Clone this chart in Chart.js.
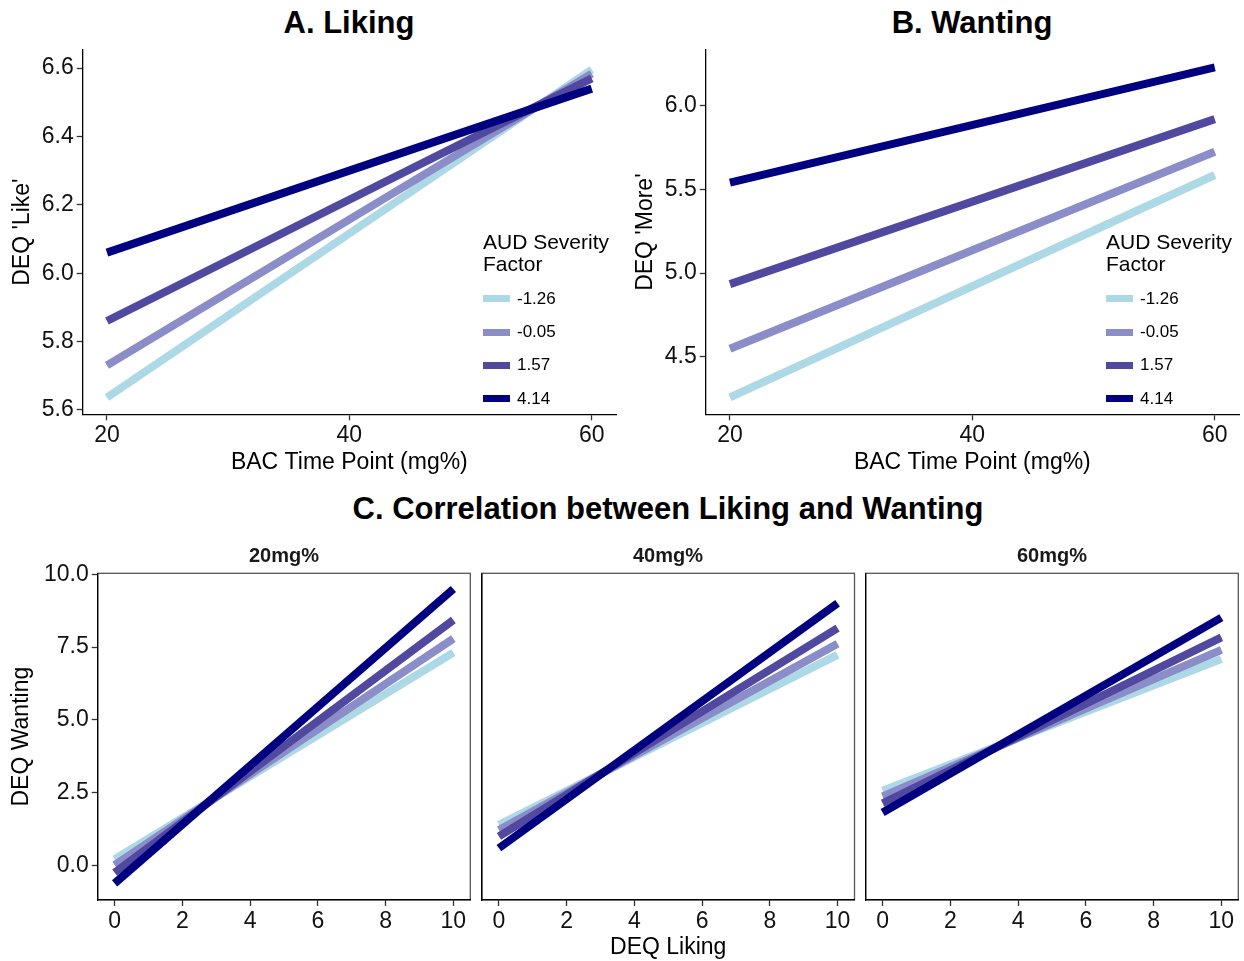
<!DOCTYPE html>
<html>
<head>
<meta charset="utf-8">
<title>DEQ liking and wanting by AUD severity</title>
<script src="https://cdn.jsdelivr.net/npm/chart.js@4.4.1/dist/chart.umd.min.js"></script>
<style>
  body { margin: 0; background: #fff; }
  #page { position: relative; width: 1244px; height: 961px; overflow: hidden; font-family: Arial, "Liberation Sans", sans-serif; }
  canvas { position: absolute; }
  .heading { position: absolute; transform: translate(-50%, -50%); white-space: nowrap; font-weight: bold; font-size: 31px; line-height: 1; color: #000; }
  .strip { position: absolute; transform: translate(-50%, -50%); white-space: nowrap; font-weight: bold; font-size: 20px; line-height: 1; color: #1a1a1a; }
  .legend { position: absolute; color: #000; }
  .legend-title { font-size: 21px; line-height: 22px; margin-bottom: 7px; }
  .legend-row { display: flex; align-items: center; height: 33.4px; }
  .legend-key { width: 27px; height: 7px; margin-right: 7px; }
  .legend-text { font-size: 17px; }
</style>
</head>
<body>
<div id="page">
  <div class="heading" style="left:349px; top:22px;">A. Liking</div>
  <div class="heading" style="left:972px; top:22px;">B. Wanting</div>
  <div class="heading" style="left:668px; top:508px;">C. Correlation between Liking and Wanting</div>

  <canvas id="liking-chart"></canvas>
  <canvas id="wanting-chart"></canvas>
  <canvas id="facet-20"></canvas>
  <canvas id="facet-40"></canvas>
  <canvas id="facet-60"></canvas>

  <div id="legend-liking" class="legend" style="left:483px; top:231px;"></div>
  <div id="legend-wanting" class="legend" style="left:1106px; top:231px;"></div>
</div>

<script>
// ===== Data =====
const severityLabels = ['-1.26', '-0.05', '1.57', '4.14'];
const severityColors = ['#ADD8E6', '#8A8DC8', '#5149A0', '#000080'];

const bacLevels = [20, 60];
const bacTicks = [20, 40, 60];

// DEQ 'Like' at 20 and 60 mg%, one row per severity level
const likeValues = [
  [5.636, 6.596],
  [5.730, 6.584],
  [5.860, 6.570],
  [6.060, 6.540],
];
const likeTicks = [5.6, 5.8, 6.0, 6.2, 6.4, 6.6];

// DEQ 'More' at 20 and 60 mg%
const moreValues = [
  [4.257, 5.586],
  [4.548, 5.725],
  [4.934, 5.920],
  [5.540, 6.229],
];
const moreTicks = [4.5, 5.0, 5.5, 6.0];

// Wanting predicted from liking (0 and 10) per BAC time point
const likingLevels = [0, 10];
const likingTicks = [0, 2, 4, 6, 8, 10];
const wantingTicks = [0, 2.5, 5, 7.5, 10];
const facetLabels = ['20mg%', '40mg%', '60mg%'];
const wantingAt20 = [
  [0.22, 7.31],
  [0.02, 7.79],
  [-0.24, 8.43],
  [-0.61, 9.49],
];
const wantingAt40 = [
  [1.40, 7.23],
  [1.22, 7.61],
  [1.00, 8.15],
  [0.60, 9.00],
];
const wantingAt60 = [
  [2.57, 7.09],
  [2.37, 7.40],
  [2.14, 7.83],
  [1.82, 8.51],
];

// ===== Shared styling =====
const FONT = 'Arial, "Liberation Sans", sans-serif';
const TICK_FONT = { family: FONT, size: 23 };
const TITLE_FONT = { family: FONT, size: 23, lineHeight: 1.2 };

// draws the grey panel frame used by the facets
const panelFrame = {
  id: 'panelFrame',
  beforeDraw(chart, args, opts) {
    if (!opts.enabled) return;
    const { ctx, chartArea } = chart;
    ctx.save();
    ctx.strokeStyle = '#555';
    ctx.lineWidth = 1.3;
    ctx.strokeRect(chartArea.left, chartArea.top, chartArea.right - chartArea.left, chartArea.bottom - chartArea.top);
    ctx.restore();
  },
};

function buildDatasets(xs, seriesValues) {
  return seriesValues.map((values, i) => ({
    label: severityLabels[i],
    data: xs.map((x, j) => ({ x, y: values[j] })),
    borderColor: severityColors[i],
    backgroundColor: severityColors[i],
    borderWidth: 8,
    borderCapStyle: 'butt',
    pointRadius: 0,
    fill: false,
    tension: 0,
    order: seriesValues.length - i,
  }));
}

function axisOptions(cfg) {
  return {
    type: 'linear',
    min: cfg.min,
    max: cfg.max,
    afterBuildTicks: (scale) => { scale.ticks = cfg.ticks.map((value) => ({ value })); },
    afterFit: (scale) => {
      if (cfg.horizontal) scale.height = cfg.size; else scale.width = cfg.size;
    },
    grid: {
      display: true,
      drawOnChartArea: false,
      drawTicks: cfg.showTicks,
      tickLength: 6,
      tickColor: '#333',
      tickWidth: 1.3,
    },
    border: { display: true, color: '#000', width: 1.3 },
    ticks: {
      display: cfg.showTicks,
      color: '#111',
      font: TICK_FONT,
      padding: cfg.horizontal ? 2 : 3,
      autoSkip: false,
      maxRotation: 0,
      callback: cfg.format,
    },
    title: {
      display: Boolean(cfg.title),
      text: cfg.title || '',
      color: '#000',
      font: TITLE_FONT,
      padding: cfg.horizontal ? { top: 0, bottom: cfg.titlePad } : { top: cfg.titlePad, bottom: 0 },
    },
  };
}

const oneDecimal = (value) => Number(value).toFixed(1);
const plain = (value) => String(value);

// frame: canvas box on the page, area: plot area on the page
function createPanel(canvasId, frame, area, cfg) {
  const canvas = document.getElementById(canvasId);
  canvas.width = frame.width;
  canvas.height = frame.height;
  canvas.style.left = `${frame.left}px`;
  canvas.style.top = `${frame.top}px`;
  canvas.style.width = `${frame.width}px`;
  canvas.style.height = `${frame.height}px`;

  const yWidth = area.left - frame.left;
  const xHeight = frame.top + frame.height - area.bottom;

  return new Chart(canvas, {
    type: 'line',
    data: { datasets: buildDatasets(cfg.xValues, cfg.series) },
    plugins: [panelFrame],
    options: {
      responsive: false,
      animation: false,
      devicePixelRatio: 1,
      layout: {
        padding: {
          left: 0,
          top: area.top - frame.top,
          right: frame.left + frame.width - area.right,
          bottom: 0,
        },
      },
      plugins: {
        legend: { display: false },
        tooltip: { enabled: false },
        panelFrame: { enabled: Boolean(cfg.framed) },
      },
      scales: {
        x: axisOptions({
          horizontal: true,
          min: cfg.xMin,
          max: cfg.xMax,
          ticks: cfg.xTicks,
          size: xHeight,
          showTicks: true,
          format: plain,
          title: cfg.xTitle,
          titlePad: cfg.xTitlePad,
        }),
        y: axisOptions({
          horizontal: false,
          min: cfg.yMin,
          max: cfg.yMax,
          ticks: cfg.yTicks,
          size: yWidth,
          showTicks: cfg.showYTicks !== false,
          format: oneDecimal,
          title: cfg.yTitle,
          titlePad: cfg.yTitlePad,
        }),
      },
    },
  });
}

function renderLegend(containerId) {
  const container = document.getElementById(containerId);
  const title = document.createElement('div');
  title.className = 'legend-title';
  title.innerHTML = 'AUD Severity<br>Factor';
  container.appendChild(title);
  severityLabels.forEach((label, i) => {
    const row = document.createElement('div');
    row.className = 'legend-row';
    const key = document.createElement('span');
    key.className = 'legend-key';
    key.style.background = severityColors[i];
    const text = document.createElement('span');
    text.className = 'legend-text';
    text.textContent = label;
    row.appendChild(key);
    row.appendChild(text);
    container.appendChild(row);
  });
}

function renderStrip(text, centerX) {
  const strip = document.createElement('div');
  strip.className = 'strip';
  strip.style.left = `${centerX}px`;
  strip.style.top = '555px';
  strip.textContent = text;
  document.getElementById('page').appendChild(strip);
}

// ===== Panels A and B =====
createPanel('liking-chart',
  { left: 0, top: 26, width: 620, height: 454 },
  { left: 82.7, top: 50, right: 616, bottom: 414.3 },
  {
    xValues: bacLevels, series: likeValues,
    xMin: 18, xMax: 62, xTicks: bacTicks, xTitle: 'BAC Time Point (mg%)', xTitlePad: 4,
    yMin: 5.587, yMax: 6.653, yTicks: likeTicks, yTitle: "DEQ 'Like'", yTitlePad: 9,
  });

createPanel('wanting-chart',
  { left: 620, top: 26, width: 624, height: 454 },
  { left: 705.7, top: 50, right: 1239, bottom: 414.3 },
  {
    xValues: bacLevels, series: moreValues,
    xMin: 18, xMax: 62, xTicks: bacTicks, xTitle: 'BAC Time Point (mg%)', xTitlePad: 4,
    yMin: 4.156, yMax: 6.333, yTicks: moreTicks, yTitle: "DEQ 'More'", yTitlePad: 12,
  });

renderLegend('legend-liking');
renderLegend('legend-wanting');

// ===== Panel C facets =====
const facetY = { yMin: -1.18, yMax: 10.03, yTicks: wantingTicks };
const facetX = { xValues: likingLevels, xMin: -0.5, xMax: 10.5, xTicks: likingTicks, framed: true };

createPanel('facet-20',
  { left: 0, top: 545, width: 476, height: 416 },
  { left: 97.7, top: 573.3, right: 470.3, bottom: 900 },
  { ...facetX, ...facetY, series: wantingAt20, yTitle: 'DEQ Wanting', yTitlePad: 8 });

createPanel('facet-40',
  { left: 476, top: 545, width: 386, height: 416 },
  { left: 482, top: 573.3, right: 854.5, bottom: 900 },
  { ...facetX, ...facetY, series: wantingAt40, showYTicks: false, xTitle: 'DEQ Liking', xTitlePad: 0 });

createPanel('facet-60',
  { left: 862, top: 545, width: 382, height: 416 },
  { left: 865.7, top: 573.3, right: 1238.3, bottom: 900 },
  { ...facetX, ...facetY, series: wantingAt60, showYTicks: false });

renderStrip(facetLabels[0], 284);
renderStrip(facetLabels[1], 668);
renderStrip(facetLabels[2], 1052);
</script>
</body>
</html>
